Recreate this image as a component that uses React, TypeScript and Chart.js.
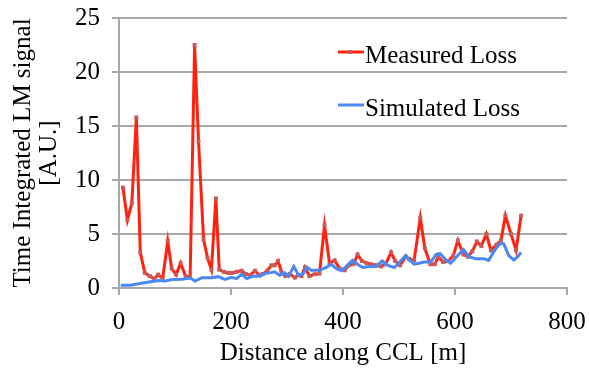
import React, { useEffect, useRef } from 'react';
import { Chart, registerables } from 'chart.js';

Chart.register(...registerables);

const measuredX = [7, 15, 23, 31, 38, 46, 55, 63, 70, 78, 87, 94, 102, 110, 119, 127, 135, 142, 151, 158, 165, 173, 179, 187, 195, 202, 210, 219, 226, 234, 243, 250, 257, 265, 272, 278, 284, 290, 297, 305, 314, 320, 326, 332, 340, 349, 358, 367, 376, 385, 394, 403, 410, 419, 426, 434, 442, 450, 459, 468, 476, 486, 493, 502, 512, 518, 527, 538, 546, 556, 564, 570, 579, 588, 597, 605, 615, 623, 631, 639, 647, 656, 664, 674, 682, 690, 700, 709, 718];
const measuredY = [9.3, 6.3, 7.9, 15.8, 3.3, 1.4, 1.1, 0.85, 1.24, 0.87, 4.35, 1.8, 1.24, 2.3, 1.08, 1.0, 22.5, 13.6, 4.5, 2.8, 1.7, 8.3, 1.7, 1.5, 1.4, 1.4, 1.5, 1.6, 1.3, 1.2, 1.6, 1.2, 1.3, 1.6, 2.1, 2.1, 2.5, 1.5, 1.1, 1.3, 0.96, 1.2, 1.1, 1.9, 1.1, 1.27, 1.33, 5.8, 2.26, 2.56, 1.8, 1.64, 2.1, 2.2, 3.1, 2.5, 2.3, 2.2, 2.1, 2.0, 2.2, 3.3, 2.5, 2.1, 2.9, 2.7, 2.56, 6.5, 3.7, 2.2, 2.2, 2.9, 2.4, 2.5, 3.0, 4.4, 3.1, 2.9, 3.4, 4.3, 3.9, 5.0, 3.5, 4.0, 4.4, 6.7, 5.0, 3.5, 6.7];

const simulatedX = [3, 20, 35, 53, 71, 83, 95, 112, 127, 136, 148, 166, 177, 189, 201, 210, 219, 228, 240, 252, 260, 269, 278, 287, 296, 303, 312, 321, 329, 336, 343, 358, 370, 379, 388, 397, 406, 417, 426, 435, 447, 459, 470, 480, 492, 503, 512, 518, 527, 536, 545, 557, 566, 573, 582, 592, 603, 615, 625, 637, 652, 660, 671, 680, 687, 696, 705, 712, 718];
const simulatedY = [0.25, 0.25, 0.4, 0.55, 0.7, 0.65, 0.78, 0.8, 0.93, 0.65, 0.95, 0.96, 1.05, 0.8, 1.0, 0.87, 1.27, 0.87, 1.1, 1.08, 1.33, 1.4, 1.5, 1.17, 1.4, 1.08, 2.0, 1.17, 1.33, 1.9, 1.64, 1.64, 1.9, 2.2, 1.8, 1.6, 2.0, 2.56, 2.2, 1.9, 2.0, 2.0, 2.5, 2.1, 1.9, 2.5, 3.0, 2.6, 2.2, 2.3, 2.4, 2.4, 3.1, 3.2, 2.7, 2.3, 2.9, 3.56, 2.9, 2.7, 2.7, 2.56, 3.5, 4.1, 4.1, 3.0, 2.6, 2.9, 3.3];

const seriesNames = ['Measured Loss', 'Simulated Loss'];
const xTitle = 'Distance along CCL [m]';
const yTitle = ['Time Integrated LM signal', '[A.U.]'];
const xRange = [0, 800, 200];
const yRange = [0, 25, 5];

const FONT = '"Liberation Serif", "Times New Roman", serif';
const FS = 25;
const RED = '#ff2211';
const RED_MARK = '#c85a58';
const BLUE = '#4a88f6';
const GRID = '#a8a8a8';

const legendPlugin = {
  id: 'customLegend',
  afterDraw(chart: any) {
    const ctx = chart.ctx;
    const items = [
      { label: seriesNames[0], color: RED, marker: true, lineY: 52, textY: 63 },
      { label: seriesNames[1], color: BLUE, marker: false, lineY: 105, textY: 116 },
    ];
    ctx.save();
    items.forEach((it) => {
      ctx.strokeStyle = it.color;
      ctx.lineWidth = 3;
      ctx.beginPath();
      ctx.moveTo(338, it.lineY);
      ctx.lineTo(364, it.lineY);
      ctx.stroke();
      if (it.marker) {
        ctx.fillStyle = RED_MARK;
        ctx.fillRect(348, it.lineY - 2, 4, 4);
      }
      ctx.fillStyle = '#000';
      ctx.font = `${FS}px ${FONT}`;
      ctx.textBaseline = 'alphabetic';
      ctx.textAlign = 'left';
      ctx.fillText(it.label, 365, it.textY);
    });
    ctx.restore();
  },
};

export default function App() {
  const ref = useRef<HTMLCanvasElement | null>(null);

  useEffect(() => {
    document.body.style.margin = '0';
    const canvas = ref.current;
    if (!canvas) return;
    const chart = new Chart(canvas, {
      type: 'line',
      data: {
        datasets: [
          {
            label: seriesNames[0],
            data: measuredX.map((x, i) => ({ x, y: measuredY[i] })),
            borderColor: RED,
            backgroundColor: RED_MARK,
            borderWidth: 3,
            pointStyle: 'rect',
            pointRadius: 2.8,
            pointBorderWidth: 0,
            pointBackgroundColor: RED_MARK,
            tension: 0,
            order: 2,
          },
          {
            label: seriesNames[1],
            data: simulatedX.map((x, i) => ({ x, y: simulatedY[i] })),
            borderColor: BLUE,
            backgroundColor: BLUE,
            borderWidth: 3,
            pointRadius: 0,
            tension: 0,
            order: 1,
          },
        ],
      },
      options: {
        animation: false,
        responsive: false,
        devicePixelRatio: 1,
        layout: { padding: { top: 18, right: 22, left: 0, bottom: 0 } },
        plugins: {
          legend: { display: false },
          tooltip: { enabled: false },
        },
        scales: {
          x: {
            type: 'linear',
            min: xRange[0],
            max: xRange[1],
            ticks: { stepSize: xRange[2], color: '#000', font: { family: FONT, size: FS }, padding: 12 },
            grid: { drawOnChartArea: false, drawTicks: true, tickLength: 7, color: GRID, lineWidth: 2 },
            border: { display: true, color: GRID, width: 2 },
            title: { display: true, text: xTitle, color: '#000', font: { family: FONT, size: FS }, padding: { top: 0, bottom: 0 } },
            afterFit: (s: any) => { s.height = 80; s.paddingRight = 0; s.paddingLeft = 0; },
          },
          y: {
            type: 'linear',
            min: yRange[0],
            max: yRange[1],
            ticks: { stepSize: yRange[2], color: '#000', font: { family: FONT, size: FS }, padding: 12 },
            grid: { drawOnChartArea: true, drawTicks: true, tickLength: 7, color: GRID, lineWidth: 2 },
            border: { display: true, color: GRID, width: 2 },
            title: { display: true, text: yTitle, color: '#000', font: { family: FONT, size: FS, lineHeight: 1.05 }, padding: { top: 10, bottom: 0 } },
            afterFit: (s: any) => { s.width = 119; s.paddingTop = 0; s.paddingBottom = 0; },
          },
        },
      },
      plugins: [legendPlugin],
    } as any);
    return () => chart.destroy();
  }, []);

  return (
    <div style={{ position: 'absolute', left: 0, top: 0, width: 589, height: 368 }}>
      <canvas ref={ref} width={589} height={368} />
    </div>
  );
}
